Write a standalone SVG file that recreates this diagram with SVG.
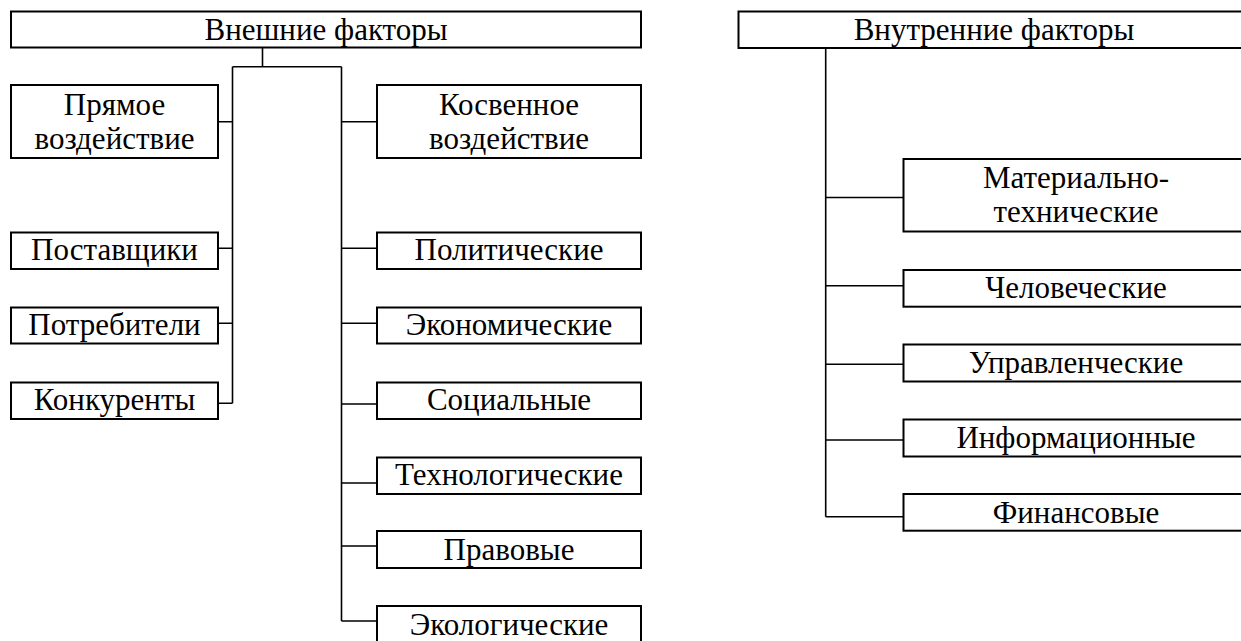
<svg xmlns="http://www.w3.org/2000/svg" width="1241" height="641" viewBox="0 0 1241 641">
<style>
.box{fill:#fff;stroke:#000;stroke-width:2}
.t{font-family:"Liberation Serif","Times New Roman",serif;font-size:31px;fill:#000;text-anchor:middle}
.c{fill:none;stroke:#000;stroke-width:1.6}
</style>
<rect width="1241" height="641" fill="#fff"/>
<g id="connectors">
<path class="c" d="M262.5 47.5V66.7M232.5 66.7H341.5M232.5 66.7V403.3M341.5 66.7V621"/>
<path class="c" d="M218 121.7H232.5M218 248.3H232.5M218 323.3H232.5M218 403.3H232.5"/>
<path class="c" d="M341.5 121.7H377M341.5 248.3H377M341.5 323.3H377M341.5 404H377M341.5 483H377M341.5 546H377M341.5 621H377"/>
<path class="c" d="M825.7 48V516.7M825.7 197.5H903M825.7 285.7H903M825.7 364.3H903M825.7 440H903M825.7 516.7H903"/>
</g>
<g id="n-ext"><rect class="box" x="11" y="11.5" width="630" height="36"/><text class="t" x="326" y="40">Внешние факторы</text></g>
<g id="n-direct"><rect class="box" x="11" y="85" width="207" height="73"/><text class="t" x="114.5" y="115">Прямое</text><text class="t" x="114.5" y="149">воздействие</text></g>
<g id="n-indirect"><rect class="box" x="377" y="85" width="264" height="73"/><text class="t" x="509" y="115">Косвенное</text><text class="t" x="509" y="149">воздействие</text></g>
<g id="n-supp"><rect class="box" x="11" y="232.5" width="207" height="36.5"/><text class="t" x="114.5" y="260">Поставщики</text></g>
<g id="n-cons"><rect class="box" x="11" y="307.5" width="207" height="36"/><text class="t" x="114.5" y="335">Потребители</text></g>
<g id="n-comp"><rect class="box" x="11" y="382.5" width="207" height="36.5"/><text class="t" x="114.5" y="410">Конкуренты</text></g>
<g id="n-pol"><rect class="box" x="377" y="232.5" width="264" height="36.5"/><text class="t" x="509" y="260">Политические</text></g>
<g id="n-eco"><rect class="box" x="377" y="307.5" width="264" height="36"/><text class="t" x="509" y="335">Экономические</text></g>
<g id="n-soc"><rect class="box" x="377" y="382.5" width="264" height="36.5"/><text class="t" x="509" y="410">Социальные</text></g>
<g id="n-tech"><rect class="box" x="377" y="457.5" width="264" height="36.5"/><text class="t" x="509" y="485">Технологические</text></g>
<g id="n-law"><rect class="box" x="377" y="531" width="264" height="37"/><text class="t" x="509" y="560">Правовые</text></g>
<g id="n-ecol"><rect class="box" x="377" y="606" width="264" height="40"/><text class="t" x="509" y="635">Экологические</text></g>
<g id="n-int"><rect class="box" x="738.5" y="11.5" width="512" height="36.5"/><text class="t" x="994" y="40">Внутренние факторы</text></g>
<g id="n-mat"><rect class="box" x="903.5" y="159" width="346" height="72.5"/><text class="t" x="1076" y="188">Материально-</text><text class="t" x="1076" y="222">технические</text></g>
<g id="n-hum"><rect class="box" x="903.5" y="270" width="346" height="36.7"/><text class="t" x="1076" y="298">Человеческие</text></g>
<g id="n-man"><rect class="box" x="903.5" y="344.5" width="346" height="37"/><text class="t" x="1076" y="373">Управленческие</text></g>
<g id="n-inf"><rect class="box" x="903.5" y="419.5" width="346" height="37"/><text class="t" x="1076" y="448">Информационные</text></g>
<g id="n-fin"><rect class="box" x="903.5" y="494" width="346" height="36.7"/><text class="t" x="1076" y="523">Финансовые</text></g>
</svg>
